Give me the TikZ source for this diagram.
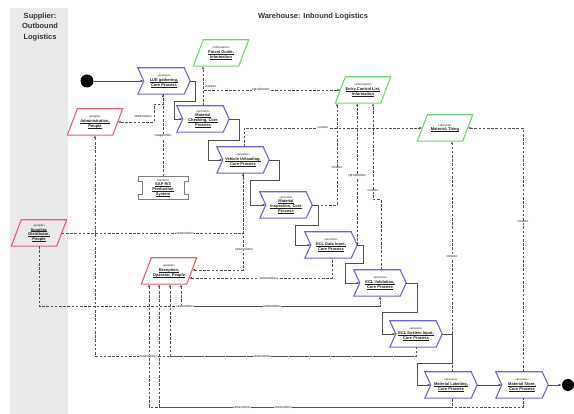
\documentclass[tikz,border=0pt]{standalone}
\usepackage{fontspec}
\setmainfont{Liberation Sans}
\usetikzlibrary{arrows.meta}

\definecolor{lanegray}{RGB}{234,234,234}
\definecolor{procblue}{RGB}{105,100,225}
\definecolor{infogreen}{RGB}{110,215,110}
\definecolor{peoplered}{RGB}{228,95,115}
\definecolor{sysgray}{RGB}{125,125,125}
\definecolor{flowc}{RGB}{80,80,80}
\definecolor{depc}{RGB}{80,80,80}
\definecolor{inkc}{RGB}{30,30,30}

% underlined name line and small stereotype line inside a box
\newcommand\un[1]{\leavevmode\setbox0\hbox{#1}\rlap{\rule[-0.7pt]{\wd0}{0.3pt}}\box0}
\newcommand\stt[1]{{\mdseries\fontsize{2.9}{3.2}\selectfont #1}\\[-0.2pt]}

\tikzset{
  procbox/.style={minimum width=52, minimum height=26, inner sep=0, align=center,
    text=inkc, font=\fontsize{4}{4.9}\selectfont\bfseries},
  resbox/.style={minimum width=55, minimum height=26, inner sep=0, align=center,
    text=inkc, font=\fontsize{4}{4.9}\selectfont\bfseries},
  procline/.style={draw=procblue, line width=1.1pt, line join=miter},
  resline/.style={line width=1.1pt, line join=miter},
  sysline/.style={draw=sysgray, line width=1pt},
  dot/.style={circle, fill=black, minimum size=13, inner sep=0},
  flow/.style={draw=flowc, line width=0.75pt, -{Latex[length=3.2pt,width=2.6pt]}},
  dep/.style={draw=depc, line width=0.75pt, dash pattern=on 2.6pt off 1.6pt},
  deparr/.style={dep, -{Latex[length=3pt,width=2.4pt]}},
  deprev/.style={dep, {Latex[length=3pt,width=2.4pt]}-},
  lbl/.style={font=\fontsize{3.5}{4}\selectfont, text=inkc, fill=white, inner sep=0.3pt},
  headline/.style={font=\fontsize{7.5}{10.5}\selectfont\bfseries, text=black!80, align=center},
}

% chevron-shaped process box
\newcommand\procnode[3]{%
  \node[procbox] (#1) at (#2) {#3};
  \draw[procline] (#1.north west) -- ([xshift=-6pt]#1.north east) -- (#1.east)
    -- ([xshift=-6pt]#1.south east) -- (#1.south west) -- ([xshift=6pt]#1.west) -- cycle;}

% slanted resource box
\newcommand\resnode[4]{%
  \node[resbox] (#1) at (#2) {#4};
  \draw[resline, draw=#3] ([xshift=10pt]#1.north west) -- (#1.north east)
    -- ([xshift=-10pt]#1.south east) -- (#1.south west) -- cycle;}

\begin{document}
\begin{tikzpicture}[x=1pt, y=-1pt]
\useasboundingbox (0,0) rectangle (574,414);

% supplier lane
\fill[lanegray] (10,8) rectangle (68,414);
\node[headline] (lanehead) at (40,27) {Supplier:\\Outbound\\Logistics};
\node[headline] (mainhead) at (313,17) {Warehouse: Inbound Logistics};

% bus levels for the long dashed runs
\coordinate (busA) at (0,356);
\coordinate (busB) at (0,306);
\coordinate (busC) at (0,407);

% processes
\procnode{lue}{164,81}{\stt{«process»}\un{LUE gathering,}\\\un{Core Process}}
\procnode{mc}{203,119}{\stt{«process»}\un{Material}\\\un{Checking, Core}\\\un{Process}}
\procnode{vu}{243,160}{\stt{«process»}\un{Vehicle Unloading,}\\\un{Core Process}}
\procnode{mi}{286,205}{\stt{«process»}\un{Material}\\\un{Inspection, Core}\\\un{Process}}
\procnode{ed}{331,245}{\stt{«process»}\un{ECL Data Input,}\\\un{Core Process}}
\procnode{ev}{380,283}{\stt{«process»}\un{ECL Validation,}\\\un{Core Process}}
\procnode{es}{416,334}{\stt{«process»}\un{ECL System Input,}\\\un{Core Process}}
\procnode{ml}{451,385}{\stt{«process»}\un{Material Labeling,}\\\un{Core Process}}
\procnode{ms}{522,385}{\stt{«process»}\un{Material Store,}\\\un{Core Process}}

% resources
\resnode{pg}{221,53}{infogreen}{\stt{«information»}\un{Parcel Guide,}\\\un{Information}}
\resnode{ecl}{363,90}{infogreen}{\stt{«information»}\un{Entry Control List,}\\\un{Information}}
\resnode{th}{445,128}{infogreen}{\stt{«physical»}\un{Material, Thing}}
\resnode{admin}{95,122}{peoplered}{\stt{«people»}\un{Administration,}\\\un{People}}
\resnode{sup}{39,233}{peoplered}{\stt{«people»}\un{Supplier,}\\\un{Distributor,}\\\un{People}}
\resnode{rec}{169,271}{peoplered}{\stt{«people»}\un{Reception,}\\\un{Operator, People}}

% supporting system
\node[procbox, minimum width=42, minimum height=23] (sap) at (163,188)
  {\stt{«system»}\un{SAP R/3}\\\un{Production}\\\un{System}};
\draw[sysline] ([xshift=-25pt,yshift=11.5pt]sap.center) -- ++(50,0) -- ++(0,5) -- ++(-4,0)
  -- ++(0,13) -- ++(4,0) -- ++(0,5) -- ++(-50,0) -- ++(0,-5) -- ++(4,0) -- ++(0,-13)
  -- ++(-4,0) -- cycle;

% start and end
\node[dot] (start) at (87,81) {};
\node[dot, minimum size=12] (finish) at (568,385) {};

% control flow
\draw[flow] (start) -- ([xshift=6pt]lue.west);
\draw[flow] (lue.east) -| (195,101) -| (174,119) -- ([xshift=6pt]mc.west);
\draw[flow] (mc.east) -| (239,140) -| (208,160) -- ([xshift=6pt]vu.west);
\draw[flow] (vu.east) -| (279,180) -| (250,205) -- ([xshift=6pt]mi.west);
\draw[flow] (mi.east) -| (318,225) -| (295,245) -- ([xshift=6pt]ed.west);
\draw[flow] (ed.east) -| (363,263) -| (345,283) -- ([xshift=6pt]ev.west);
\draw[flow] (ev.east) -| (417,312) -| (382,334) -- ([xshift=6pt]es.west);
\draw[flow] (es.east) -| (452,363) -| (417,385) -- ([xshift=6pt]ml.west);
\draw[flow] (ml.east) -- ([xshift=6pt]ms.west);
\draw[flow] (ms.east) -- (finish);

% information and material usage
\draw[deparr] (mc.north) -- (mc.north |- pg.south);
\draw[deparr] (mc.north) |- ([xshift=5pt]ecl.west);
\draw[deparr] ([xshift=1pt]vu.north) |- ([xshift=5pt]th.west);
\draw[deparr] (mi.east) -| ([xshift=-26pt]ecl.south);
\draw[deparr] (ed.east) -- (ed.east |- ecl.south);
\draw[deparr] ([xshift=1pt]ev.north) -- ++(0,-70) -| ([xshift=10pt]ecl.south);
\draw[deparr] ([xshift=1pt]ml.north) -- ([xshift=1pt]ml.north |- th.south);
\draw[deparr] ([xshift=1pt]ms.north) |- ([xshift=-5pt]th.east);
\draw[deparr] (sap.north) -- (sap.north |- lue.south);

% who executes what
\draw[deparr] ([xshift=-1pt]lue.south) |- (154,104) |- ([xshift=-5pt]admin.east);
\draw[deprev] (admin.south) |- (es.south |- busA) -- (es.south);
\draw[deprev] ([xshift=1pt]rec.south) |- (es.south |- busA);
\draw[deparr] (sup.south) |- (ev.south |- busB) -- (ev.south);
\draw[deprev] ([xshift=12pt]rec.south) |- (ev.south |- busB);
\draw[deparr] ([xshift=-5pt]sup.east) -| (vu.south);
\draw[deprev] ([xshift=-4.6pt,yshift=1pt]rec.east) -| (vu.south);
\draw[deprev] ([xshift=-7.7pt,yshift=-7pt]rec.east) -| ([xshift=1pt]ed.south);
\draw[deprev] ([xshift=-20pt]rec.south) |- ([xshift=1pt]ml.south |- busC) -- ([xshift=1pt]ml.south);
\draw[deprev] ([xshift=-10pt]rec.south) |- ([xshift=1pt]ms.south |- busC) -- ([xshift=1pt]ms.south);

% connector labels
\node[lbl] (l1) at (211,86.5) {«uses»};
\node[lbl] (l2) at (261,90) {«produces»};
\node[lbl] (l3) at (323,128) {«uses»};
\node[lbl] (l4) at (337,168) {«uses»};
\node[lbl] (l5) at (357,176) {«produces»};
\node[lbl] (l6) at (373,191) {«uses»};
\node[lbl] (l7) at (452,257) {«uses»};
\node[lbl] (l8) at (523,222) {«uses»};
\node[lbl] (l9) at (163,136) {«supports»};
\node[lbl] (l10) at (143,116.5) {«executes»};
\node[lbl] (l11) at (148,356) {«executes»};
\node[lbl] (l12) at (262,356) {«executes»};
\node[lbl] (l13) at (185,306) {«executes»};
\node[lbl] (l14) at (272,306) {«executes»};
\node[lbl] (l15) at (185,233) {«executes»};
\node[lbl] (l16) at (244,249) {«executes»};
\node[lbl] (l17) at (268,278) {«executes»};
\node[lbl] (l18) at (242,407) {«executes»};
\node[lbl] (l19) at (283,407) {«executes»};
\end{tikzpicture}
\end{document}
